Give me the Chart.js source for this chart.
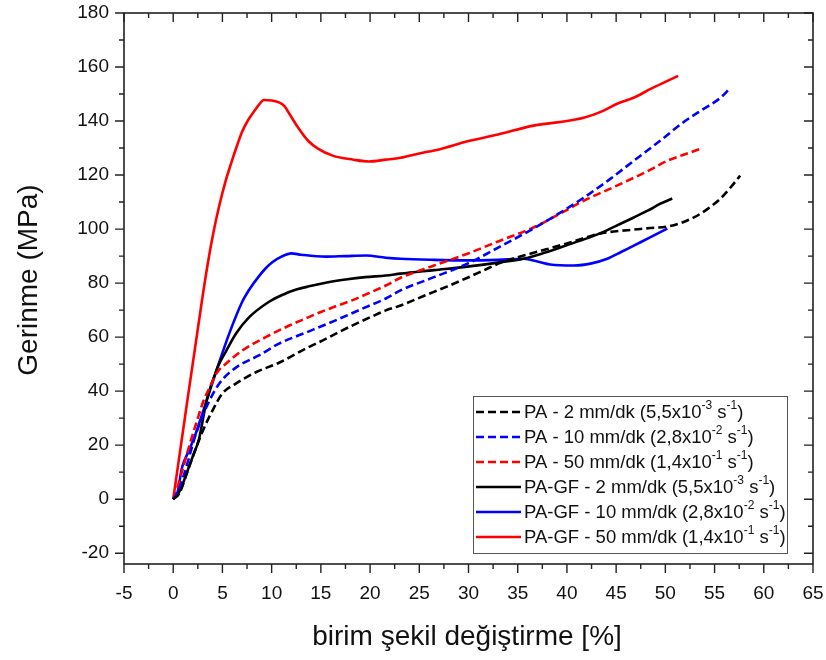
<!DOCTYPE html>
<html>
<head>
<meta charset="utf-8">
<script src="https://cdn.jsdelivr.net/npm/chart.js@4.4.1/dist/chart.umd.min.js"></script>
<style>
  html, body { margin: 0; padding: 0; background: #fff; }
  #wrap { width: 826px; height: 660px; position: relative; }
</style>
</head>
<body>
<div id="wrap"><canvas id="stressChart"></canvas></div>
<script>
// Gerilme - birim şekil değiştirme eğrileri (PA ve PA-GF)

const xTicks = [-5, 0, 5, 10, 15, 20, 25, 30, 35, 40, 45, 50, 55, 60, 65];
const yTicks = [-20, 0, 20, 40, 60, 80, 100, 120, 140, 160, 180];

const seriesLabels = [
  'PA - 2 mm/dk (5,5x10^{-3} s^{-1})',
  'PA - 10 mm/dk (2,8x10^{-2} s^{-1})',
  'PA - 50 mm/dk (1,4x10^{-1} s^{-1})',
  'PA-GF - 2 mm/dk (5,5x10^{-3} s^{-1})',
  'PA-GF - 10 mm/dk (2,8x10^{-2} s^{-1})',
  'PA-GF - 50 mm/dk (1,4x10^{-1} s^{-1})'
];

// PA - 2 mm/dk
const pa2Strain = [0, 0.6, 1.6, 2.9, 4.0, 5.0, 6.4, 8.4, 10.8, 13.5, 15.2, 16.9, 18.6, 20.1, 21.6, 23.1, 25.5, 27.8, 29.9, 31.6, 33.3, 35.6, 37.8, 39.9, 41.6, 43.3, 45.0, 46.8, 48.5, 50.2, 51.6, 52.9, 54.3, 55.6, 56.6, 57.6];
const pa2Stress = [0, 2, 11.8, 24.4, 32.9, 39.2, 42.9, 47, 50.6, 55.8, 58.8, 62, 65, 67.5, 69.9, 71.7, 75.3, 78.7, 82, 84.8, 87.6, 90.2, 92.4, 94.6, 96.5, 98.3, 99.2, 99.8, 100.4, 100.9, 102.3, 104.3, 107.5, 111.3, 115.3, 119.8];

// PA - 10 mm/dk
const pa10Strain = [0, 0.5, 1.0, 1.5, 2.1, 2.9, 3.7, 4.7, 6.4, 8.7, 10.8, 13.5, 16.5, 19.0, 21.6, 23.1, 26.5, 29.9, 33.2, 36.6, 39.2, 41.7, 44.3, 46.8, 49.4, 52.0, 53.8, 55.6, 56.6];
const pa10Stress = [0, 3, 8, 14, 21.8, 30, 36.6, 42.9, 48.8, 53.2, 57.7, 61.7, 66.2, 70.2, 74.3, 77.3, 82.2, 87.2, 93.5, 100.2, 105.8, 111.6, 118.3, 125.3, 132.5, 140, 144.3, 148.6, 152.3];

// PA - 50 mm/dk
const pa50Strain = [0, 0.4, 0.8, 1.3, 1.8, 2.5, 3.1, 3.8, 4.4, 5.4, 7.0, 9.4, 11.8, 13.5, 14.8, 16.5, 18.3, 20.0, 21.6, 23.1, 26.5, 29.9, 33.2, 36.6, 39.2, 41.7, 44.3, 46.8, 48.5, 50.2, 52.0, 53.8];
const pa50Stress = [0, 4, 9, 15.5, 21.8, 30, 36.6, 42, 46.6, 50.3, 55, 60, 64.3, 67, 69, 71.4, 73.8, 76.5, 79.1, 82, 86.5, 90.9, 95.7, 100.6, 105.5, 110.5, 114.8, 119, 122, 125.3, 127.7, 130];

// PA-GF - 2 mm/dk
const gf2Strain = [0, 0.5, 1.0, 1.5, 2.0, 2.6, 3.4, 4.5, 5.4, 6.4, 7.7, 9.7, 11.2, 12.5, 13.8, 15.6, 17.5, 19.5, 21.6, 23.1, 26.5, 29.9, 32.8, 35.6, 37.8, 39.9, 41.6, 43.3, 45.0, 46.8, 48.2, 49.5, 50.7];
const gf2Stress = [0, 2, 6, 11, 16, 22, 36.6, 48.8, 55, 61.4, 67.3, 73, 75.8, 77.6, 78.8, 80.2, 81.3, 82.2, 82.8, 83.5, 84.8, 86.1, 87.5, 89, 91.3, 93.9, 96, 98.3, 101.2, 104.3, 106.8, 109.4, 111.3];

// PA-GF - 10 mm/dk
const gf10Strain = [0, 0.4, 0.9, 1.6, 2.3, 3.4, 4.5, 5.7, 7.0, 7.8, 8.7, 9.4, 10.1, 11.0, 12.0, 13.0, 15.5, 17.5, 19.6, 21.6, 23.1, 26.5, 29.9, 33.0, 35.6, 37.0, 38.3, 40.7, 42.5, 44.1, 45.5, 46.8, 48.5, 50.2];
const gf10Stress = [0, 2, 11.8, 18, 24.4, 36.6, 48.8, 61.4, 73, 78, 82.5, 85.5, 87.8, 89.8, 91, 90.5, 89.8, 90, 90.2, 89.4, 89, 88.6, 88.4, 88.6, 89, 88, 86.9, 86.5, 87.3, 89, 91.5, 93.9, 97, 100.2];

// PA-GF - 50 mm/dk
const gf50Strain = [0, 1.3, 2.9, 3.5, 4.1, 4.7, 5.3, 5.9, 6.4, 7.0, 7.6, 8.2, 8.7, 9.2, 10.0, 10.8, 11.3, 11.8, 12.7, 13.7, 14.7, 16.2, 18.3, 19.9, 21.6, 23.1, 25.0, 27.0, 29.9, 33.0, 36.6, 39.0, 41.7, 43.5, 45.1, 47.0, 48.5, 50.0, 51.3];
const gf50Stress = [0, 33, 73, 87, 99, 109, 117.5, 124.5, 130, 136, 140.3, 143.5, 146, 147.8, 147.6, 146.8, 145.5, 142.7, 137.5, 132.7, 129.8, 127.2, 125.7, 125, 125.7, 126.4, 128, 129.5, 132.5, 135, 138.3, 139.5, 141.2, 143.5, 146.4, 149, 151.9, 154.5, 156.7];

const xMinorStep = 2.5;
const yMinorStep = 10;

const toPoints = (xs, ys) => xs.map((x, i) => ({ x: x, y: ys[i] }));

const FONT = '"Liberation Sans", Arial, sans-serif';

const makeSet = (label, xs, ys, color, dashed) => ({
  label: label,
  data: toPoints(xs, ys),
  borderColor: color,
  backgroundColor: color,
  borderWidth: 2.6,
  borderDash: dashed ? [8, 4] : [],
  pointRadius: 0,
  fill: false,
  cubicInterpolationMode: 'monotone'
});

// draw text with ^{...} superscripts
const drawRich = (ctx, text, x, y, size) => {
  const parts = text.split(/(\^\{[^}]*\})/);
  parts.forEach(p => {
    if (!p) return;
    if (p.startsWith('^{')) {
      const t = p.slice(2, -1);
      ctx.font = Math.round(size * 0.66) + 'px ' + FONT;
      ctx.fillText(t, x, y - size * 0.38);
      x += ctx.measureText(t).width;
    } else {
      ctx.font = size + 'px ' + FONT;
      ctx.fillText(p, x, y);
      x += ctx.measureText(p).width;
    }
  });
};

const framePlugin = {
  id: 'frame',
  afterDraw(chart) {
    const ctx = chart.ctx;
    const area = chart.chartArea;
    const xs = chart.scales.x;
    const ys = chart.scales.y;
    ctx.save();

    // box round plot
    ctx.strokeStyle = '#222';
    ctx.lineWidth = 1.6;
    ctx.strokeRect(area.left, area.top, area.right - area.left, area.bottom - area.top);

    // major and minor tick marks (left/bottom out, top/right in)
    const major = 9, minor = 5;
    ctx.lineWidth = 1.4;
    ctx.beginPath();
    for (let v = xs.min; v <= xs.max + 1e-6; v += xMinorStep) {
      const px = xs.getPixelForValue(v);
      const len = Math.abs(v % 5) < 1e-6 ? major : minor;
      ctx.moveTo(px, area.bottom); ctx.lineTo(px, area.bottom + len);
      ctx.moveTo(px, area.top); ctx.lineTo(px, area.top + len);
    }
    for (let v = -20; v <= ys.max + 1e-6; v += yMinorStep) {
      const py = ys.getPixelForValue(v);
      const len = Math.abs(v % 20) < 1e-6 ? major : minor;
      ctx.moveTo(area.left, py); ctx.lineTo(area.left - len, py);
      ctx.moveTo(area.right, py); ctx.lineTo(area.right - len, py);
    }
    ctx.stroke();

    // axis titles
    ctx.fillStyle = '#111';
    ctx.font = '28px ' + FONT;
    ctx.textAlign = 'center';
    ctx.textBaseline = 'middle';
    ctx.fillText('birim şekil değiştirme [%]', 467, 637);
    ctx.save();
    ctx.translate(29, 280);
    ctx.rotate(-Math.PI / 2);
    ctx.fillText('Gerinme (MPa)', 0, 0);
    ctx.restore();

    // legend box
    const lx = 473, ly = 396, lw = 314, lh = 157;
    ctx.fillStyle = '#fff';
    ctx.fillRect(lx, ly, lw, lh);
    ctx.strokeStyle = '#555';
    ctx.lineWidth = 1;
    ctx.strokeRect(lx + 0.5, ly + 0.5, lw, lh);
    ctx.textAlign = 'left';
    ctx.textBaseline = 'middle';
    chart.data.datasets.forEach((ds, i) => {
      const ry = ly + 16 + i * 25;
      ctx.strokeStyle = ds.borderColor;
      ctx.lineWidth = 2.6;
      ctx.setLineDash(ds.borderDash);
      ctx.beginPath();
      ctx.moveTo(lx + 3, ry);
      ctx.lineTo(lx + 48, ry);
      ctx.stroke();
      ctx.setLineDash([]);
      ctx.fillStyle = '#111';
      drawRich(ctx, ds.label, lx + 51, ry + 1, 18.5);
    });
    ctx.restore();
  }
};

new Chart(document.getElementById('stressChart'), {
  type: 'line',
  data: {
    datasets: [
      makeSet(seriesLabels[0], pa2Strain, pa2Stress, '#000000', true),
      makeSet(seriesLabels[1], pa10Strain, pa10Stress, '#0000ff', true),
      makeSet(seriesLabels[2], pa50Strain, pa50Stress, '#ff0000', true),
      makeSet(seriesLabels[3], gf2Strain, gf2Stress, '#000000', false),
      makeSet(seriesLabels[4], gf10Strain, gf10Stress, '#0000ff', false),
      makeSet(seriesLabels[5], gf50Strain, gf50Stress, '#ff0000', false)
    ]
  },
  options: {
    responsive: true,
    maintainAspectRatio: false,
    animation: false,
    layout: { padding: { top: 13, right: 13, left: 0, bottom: 0 } },
    plugins: {
      legend: { display: false },
      tooltip: { enabled: false }
    },
    scales: {
      x: {
        type: 'linear',
        min: -5,
        max: 65,
        afterFit: s => { s.height = 96; s.paddingLeft = 0; s.paddingRight = 0; },
        afterBuildTicks: s => { s.ticks = xTicks.map(v => ({ value: v })); },
        grid: { display: false, drawTicks: false },
        border: { display: false },
        ticks: {
          color: '#111',
          padding: 18,
          maxRotation: 0,
          font: { family: FONT, size: 19 }
        }
      },
      y: {
        type: 'linear',
        min: -24,
        max: 180,
        afterFit: s => { s.width = 124; s.paddingTop = 0; s.paddingBottom = 0; },
        afterBuildTicks: s => { s.ticks = yTicks.map(v => ({ value: v })); },
        grid: { display: false, drawTicks: false },
        border: { display: false },
        ticks: {
          color: '#111',
          padding: 15,
          font: { family: FONT, size: 19 }
        }
      }
    }
  },
  plugins: [framePlugin]
});
</script>
</body>
</html>
